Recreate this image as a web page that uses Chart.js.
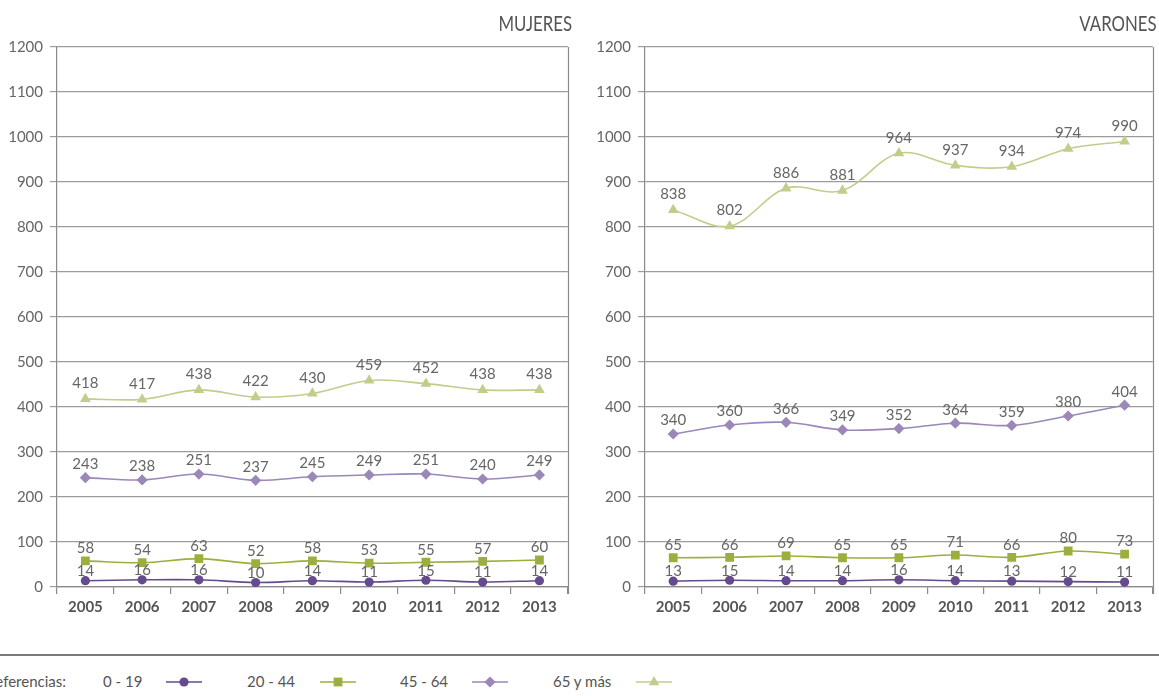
<!DOCTYPE html>
<html lang="es">
<head>
<meta charset="utf-8">
<script src="https://cdn.jsdelivr.net/npm/chart.js@4/dist/chart.umd.min.js"></script>
<style>
  html, body { margin: 0; padding: 0; background: #fff; }
  body { width: 1159px; height: 696px; position: relative; overflow: hidden; font-family: Lato, "Open Sans", sans-serif; color: #555; }
  .panel { position: absolute; top: 0; width: 574px; height: 640px; }
  .title { position: absolute; top: 10px; font-size: 21px; color: #555; transform-origin: right center; transform: scaleX(0.8); white-space: nowrap; }
  .sep { position: absolute; left: 0; top: 654px; width: 1159px; height: 2px; background: #7a7a7a; }
  .leg { position: absolute; top: 672px; font-size: 15px; color: #555; white-space: nowrap; line-height: 18px; }
  .legmark { position: absolute; top: 673px; }
</style>
</head>
<body>
<div class="panel" style="left:0"><canvas id="cM" width="574" height="640"></canvas></div>
<div class="panel" style="left:585px"><canvas id="cV" width="574" height="640"></canvas></div>
<div class="title" style="right:587px">MUJERES</div>
<div class="title" style="right:2px">VARONES</div>
<div class="sep"></div>
<div id="legend"></div>
<script>
// Años y grupos de edad
const years = ['2005', '2006', '2007', '2008', '2009', '2010', '2011', '2012', '2013'];
const groups = ['0 - 19', '20 - 44', '45 - 64', '65 y más'];
const yTicks = [0, 100, 200, 300, 400, 500, 600, 700, 800, 900, 1000, 1100, 1200];

// Mujeres
const mujeres0_19  = [14, 16, 16, 10, 14, 11, 15, 11, 14];
const mujeres20_44 = [58, 54, 63, 52, 58, 53, 55, 57, 60];
const mujeres45_64 = [243, 238, 251, 237, 245, 249, 251, 240, 249];
const mujeres65    = [418, 417, 438, 422, 430, 459, 452, 438, 438];

// Varones
const varones0_19  = [13, 15, 14, 14, 16, 14, 13, 12, 11];
const varones20_44 = [65, 66, 69, 65, 65, 71, 66, 80, 73];
const varones45_64 = [340, 360, 366, 349, 352, 364, 359, 380, 404];
const varones65    = [838, 802, 886, 881, 964, 937, 934, 974, 990];

const styles = [
  { color: '#654a8d', pointStyle: 'circle',   radius: 4.6, labelGap: 4 },
  { color: '#9caf3e', pointStyle: 'rect',     radius: 6.2, labelGap: 7 },
  { color: '#9b87b8', pointStyle: 'rectRot',  radius: 5.6, labelGap: 8 },
  { color: '#c3cd8b', pointStyle: 'triangle', radius: 6.2, labelGap: 10 }
];

function makeDatasets(series) {
  return series.map((data, i) => ({
    label: groups[i],
    data: data,
    borderColor: styles[i].color,
    backgroundColor: styles[i].color,
    pointBackgroundColor: styles[i].color,
    pointBorderColor: styles[i].color,
    pointStyle: styles[i].pointStyle,
    pointRadius: styles[i].radius,
    pointBorderWidth: 0,
    borderWidth: 1.6,
    tension: 0.35,
    labelGap: styles[i].labelGap
  }));
}

// Valores sobre cada punto
const valueLabels = {
  id: 'valueLabels',
  afterDatasetsDraw(chart) {
    const ctx = chart.ctx;
    ctx.save();
    ctx.font = '15px Lato, "Open Sans", sans-serif';
    ctx.fillStyle = '#666';
    ctx.textAlign = 'center';
    ctx.textBaseline = 'bottom';
    chart.data.datasets.forEach((ds, di) => {
      const meta = chart.getDatasetMeta(di);
      meta.data.forEach((pt, i) => {
        ctx.fillText(String(ds.data[i]), pt.x, pt.y - ds.labelGap + 2);
      });
    });
    ctx.restore();
  }
};

// Borde derecho del área de trazado
const rightBorder = {
  id: 'rightBorder',
  afterDraw(chart) {
    const a = chart.chartArea;
    const ctx = chart.ctx;
    ctx.save();
    ctx.strokeStyle = '#8a8a8a';
    ctx.lineWidth = 1.2;
    ctx.beginPath();
    ctx.moveTo(Math.round(a.right) + 0.5, a.top);
    ctx.lineTo(Math.round(a.right) + 0.5, a.bottom + 7);
    ctx.stroke();
    ctx.restore();
  }
};

function makeChart(id, series, leftWidth, padRight) {
  return new Chart(document.getElementById(id), {
    type: 'line',
    data: { labels: years, datasets: makeDatasets(series) },
    options: {
      responsive: false,
      animation: false,
      layout: { padding: { top: 47, bottom: 13, left: 0, right: padRight } },
      plugins: { legend: { display: false }, tooltip: { enabled: false }, title: { display: false } },
      scales: {
        x: {
          offset: true,
          grid: { offset: true, drawOnChartArea: false, tickLength: 7, color: '#8a8a8a', lineWidth: 1.2 },
          border: { color: '#8a8a8a', width: 1.2 },
          ticks: { padding: 4, color: '#555', font: { family: 'Lato, "Open Sans", sans-serif', size: 15, weight: 'bold' } },
          afterFit(scale) { scale.height = 40; }
        },
        y: {
          min: 0, max: 1200,
          afterBuildTicks(scale) { scale.ticks = yTicks.map(v => ({ value: v })); },
          grid: { color: '#9c9c9c', lineWidth: 1.2, tickLength: 7 },
          border: { color: '#8a8a8a', width: 1.2 },
          ticks: {
            padding: 7, color: '#666',
            font: { family: 'Lato, "Open Sans", sans-serif', size: 15 },
            callback: v => String(v)
          },
          afterFit(scale) { scale.width = leftWidth; }
        }
      }
    },
    plugins: [valueLabels, rightBorder]
  });
}

makeChart('cM', [mujeres0_19, mujeres20_44, mujeres45_64, mujeres65], 57, 5);
makeChart('cV', [varones0_19, varones20_44, varones45_64, varones65], 60, 4);

// Leyenda
const legendTitle = 'Referencias:';
const legendItems = [
  { x: 103, mark: 166 },
  { x: 247, mark: 320 },
  { x: 400, mark: 472 },
  { x: 553, mark: 636 }
];
const legend = document.getElementById('legend');
const ref = document.createElement('div');
ref.className = 'leg';
ref.style.right = (1159 - 66) + 'px';
ref.textContent = legendTitle;
legend.appendChild(ref);

function markerSvg(st) {
  const c = st.color;
  let shape = '';
  const cx = 18, cy = 7;
  if (st.pointStyle === 'circle') shape = `<circle cx="${cx}" cy="${cy}" r="4.6" fill="${c}"/>`;
  else if (st.pointStyle === 'rect') shape = `<rect x="${cx - 4.4}" y="${cy - 4.4}" width="8.8" height="8.8" fill="${c}"/>`;
  else if (st.pointStyle === 'rectRot') shape = `<polygon points="${cx},${cy - 5.6} ${cx + 5.6},${cy} ${cx},${cy + 5.6} ${cx - 5.6},${cy}" fill="${c}"/>`;
  else shape = `<polygon points="${cx},${cy - 6} ${cx + 5.3},${cy + 3.3} ${cx - 5.3},${cy + 3.3}" fill="${c}"/>`;
  return `<svg width="36" height="14" viewBox="0 0 36 14"><line x1="0" y1="${cy}" x2="36" y2="${cy}" stroke="${c}" stroke-width="1.4"/>${shape}</svg>`;
}

groups.forEach((g, i) => {
  const t = document.createElement('div');
  t.className = 'leg';
  t.style.left = legendItems[i].x + 'px';
  t.textContent = g;
  legend.appendChild(t);
  const m = document.createElement('div');
  m.className = 'legmark';
  m.style.left = legendItems[i].mark + 'px';
  m.innerHTML = markerSvg(styles[i]);
  legend.appendChild(m);
});
</script>
</body>
</html>
